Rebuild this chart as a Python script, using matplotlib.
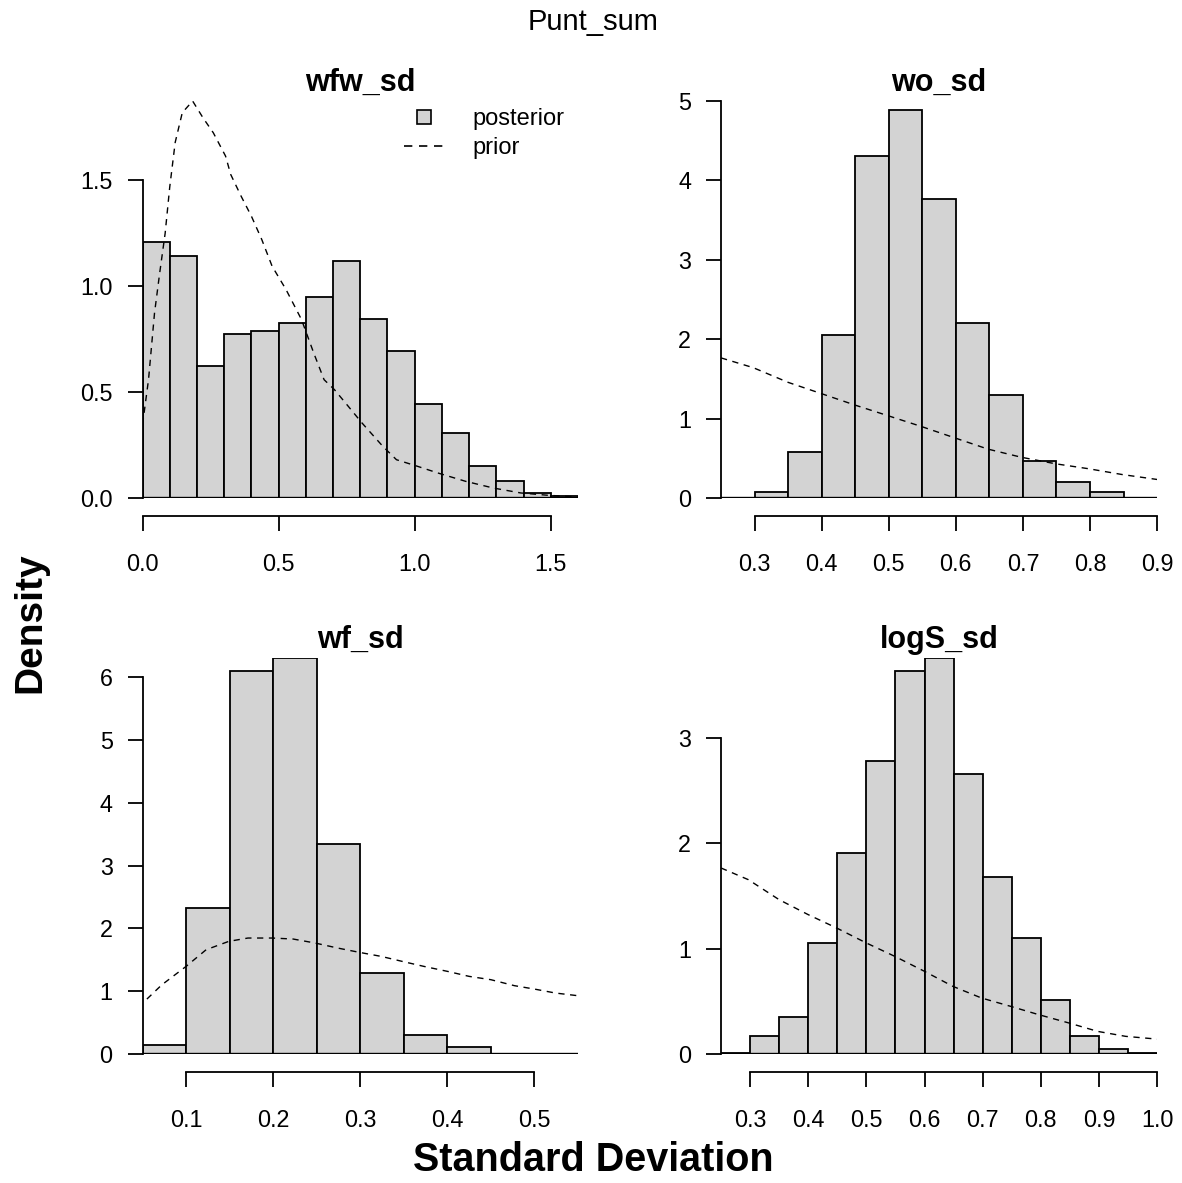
import matplotlib
matplotlib.use("Agg")
import matplotlib.pyplot as plt
from matplotlib.lines import Line2D

plt.rcParams['font.family'] = ['Liberation Sans', 'DejaVu Sans']

# wfw_sd: posterior histogram (bin edges, density) and prior density curve
wfw_edges = [0.0, 0.1, 0.2, 0.3, 0.4, 0.5, 0.6, 0.7, 0.8, 0.9, 1.0, 1.1, 1.2, 1.3, 1.4, 1.5, 1.6]
wfw_density = [1.21, 1.145, 0.625, 0.775, 0.79, 0.825, 0.95, 1.12, 0.845, 0.695,
               0.445, 0.305, 0.15, 0.08, 0.025, 0.01]
wfw_prior_x = [0.0, 0.022, 0.044, 0.063, 0.083, 0.10, 0.12, 0.146, 0.184, 0.222, 0.26,
               0.305, 0.324, 0.362, 0.40, 0.438, 0.476, 0.527, 0.584, 0.629, 0.667,
               0.705, 0.756, 0.806, 0.883, 0.933, 1.01, 1.086, 1.187, 1.29, 1.39, 1.49, 1.6]
wfw_prior_y = [0.347, 0.56, 0.874, 1.063, 1.25, 1.47, 1.68, 1.82, 1.875, 1.796, 1.725,
               1.615, 1.528, 1.426, 1.331, 1.221, 1.095, 0.985, 0.843, 0.685, 0.559,
               0.512, 0.433, 0.355, 0.244, 0.181, 0.15, 0.118, 0.079, 0.047, 0.024, 0.013, 0.005]

# wo_sd
wo_edges = [0.25, 0.30, 0.35, 0.40, 0.45, 0.50, 0.55, 0.60, 0.65, 0.70, 0.75, 0.80, 0.85, 0.90]
wo_density = [0.0, 0.07, 0.579, 2.057, 4.306, 4.881, 3.768, 2.204, 1.301, 0.468, 0.205, 0.07, 0.0]
wo_prior_x = [0.25, 0.298, 0.35, 0.40, 0.45, 0.50, 0.548, 0.598, 0.648, 0.698, 0.749, 0.798, 0.848, 0.9]
wo_prior_y = [1.765, 1.642, 1.457, 1.314, 1.17, 1.034, 0.903, 0.759, 0.616, 0.513, 0.431,
              0.369, 0.296, 0.234]

# wf_sd
wf_edges = [0.05, 0.10, 0.15, 0.20, 0.25, 0.30, 0.35, 0.40, 0.45, 0.50, 0.55]
wf_density = [0.143, 2.329, 6.095, 6.302, 3.347, 1.284, 0.297, 0.117, 0.0, 0.0]
wf_prior_x = [0.055, 0.072, 0.10, 0.123, 0.149, 0.171, 0.199, 0.223, 0.248, 0.274, 0.299,
              0.324, 0.348, 0.373, 0.40, 0.425, 0.45, 0.477, 0.50, 0.524, 0.55]
wf_prior_y = [0.875, 1.10, 1.395, 1.66, 1.793, 1.846, 1.846, 1.83, 1.767, 1.687, 1.618,
              1.554, 1.475, 1.395, 1.316, 1.236, 1.183, 1.088, 1.034, 0.971, 0.928]

# logS_sd
logS_edges = [0.25, 0.30, 0.35, 0.40, 0.45, 0.50, 0.55, 0.60, 0.65, 0.70, 0.75, 0.80,
              0.85, 0.90, 0.95, 1.00]
logS_density = [0.013, 0.174, 0.354, 1.054, 1.908, 2.782, 3.636, 3.759, 2.658, 1.677,
                1.101, 0.516, 0.174, 0.051, 0.013]
logS_prior_x = [0.25, 0.297, 0.35, 0.40, 0.449, 0.50, 0.549, 0.60, 0.649, 0.698, 0.748,
                0.797, 0.849, 0.898, 0.946, 1.0]
logS_prior_y = [1.766, 1.655, 1.465, 1.323, 1.196, 1.054, 0.927, 0.785, 0.642, 0.532,
                0.453, 0.373, 0.294, 0.215, 0.168, 0.142]

wfw_xticks = [0.0, 0.5, 1.0, 1.5]
wfw_yticks = [0.0, 0.5, 1.0, 1.5]
wo_xticks = [0.3, 0.4, 0.5, 0.6, 0.7, 0.8, 0.9]
wo_yticks = [0, 1, 2, 3, 4, 5]
wf_xticks = [0.1, 0.2, 0.3, 0.4, 0.5]
wf_yticks = [0, 1, 2, 3, 4, 5, 6]
logS_xticks = [0.3, 0.4, 0.5, 0.6, 0.7, 0.8, 0.9, 1.0]
logS_yticks = [0, 1, 2, 3]

BAR_GREY = '#d3d3d3'
TICK_FS = 16.8


def draw_panel(ax, title, edges, dens, px, py, xticks, xfmt, yticks, yfmt):
    lefts = edges[:-1]
    widths = [b - a for a, b in zip(edges[:-1], edges[1:])]
    ax.bar(lefts, dens, width=widths, align='edge', color=BAR_GREY,
           edgecolor='black', linewidth=1.3, zorder=2)
    ax.axhline(0, color='black', linewidth=1.7, zorder=3)
    ax.plot(px, py, color='black', linewidth=1.0, linestyle=(0, (4.5, 4)), zorder=4)

    ax.set_xlim(edges[0], edges[-1])
    ax.set_ylim(0, max(max(dens), max(py)))

    for s in ('top', 'right'):
        ax.spines[s].set_visible(False)
    ax.spines['bottom'].set_position(('outward', 13))
    ax.spines['bottom'].set_bounds(xticks[0], xticks[-1])
    ax.spines['left'].set_bounds(yticks[0], yticks[-1])
    for s in ('bottom', 'left'):
        ax.spines[s].set_linewidth(1.3)

    ax.set_xticks(xticks)
    ax.set_xticklabels([xfmt.format(v) for v in xticks])
    ax.set_yticks(yticks)
    ax.set_yticklabels([yfmt.format(v) for v in yticks])
    ax.tick_params(axis='x', length=11, width=1.3, pad=15.5, labelsize=TICK_FS, colors='black')
    ax.tick_params(axis='y', length=11, width=1.3, pad=10.5, labelsize=TICK_FS, colors='black')
    ax.set_title(title, fontsize=22, fontweight='bold', pad=7)


fig = plt.figure(figsize=(11.82, 11.83), dpi=100)

ax1 = fig.add_axes([0.1206, 0.5790, 0.3684, 0.3356])
ax2 = fig.add_axes([0.6100, 0.5790, 0.3689, 0.3356])
ax3 = fig.add_axes([0.1206, 0.1090, 0.3684, 0.3348])
ax4 = fig.add_axes([0.6100, 0.1090, 0.3689, 0.3348])

draw_panel(ax1, 'wfw_sd', wfw_edges, wfw_density, wfw_prior_x, wfw_prior_y,
           wfw_xticks, '{:.1f}', wfw_yticks, '{:.1f}')
draw_panel(ax2, 'wo_sd', wo_edges, wo_density, wo_prior_x, wo_prior_y,
           wo_xticks, '{:.1f}', wo_yticks, '{:d}')
draw_panel(ax3, 'wf_sd', wf_edges, wf_density, wf_prior_x, wf_prior_y,
           wf_xticks, '{:.1f}', wf_yticks, '{:d}')
draw_panel(ax4, 'logS_sd', logS_edges, logS_density, logS_prior_x, logS_prior_y,
           logS_xticks, '{:.1f}', logS_yticks, '{:d}')

# legend in first panel, no frame
handles = [
    Line2D([], [], marker='s', markersize=10, markerfacecolor=BAR_GREY,
           markeredgecolor='black', markeredgewidth=1.2, linestyle='none'),
    Line2D([], [], color='black', linewidth=1.2, linestyle=(0, (5, 4))),
]
ax1.legend(handles, ['posterior', 'prior'], loc='upper left',
           bbox_to_anchor=(404 / 1182, 1 - 108 / 1183), bbox_transform=fig.transFigure,
           frameon=False, fontsize=17, handlelength=1.7, handletextpad=1.2,
           labelspacing=0.3, borderpad=0, borderaxespad=0)

fig.text(0.5017, 0.981, 'Punt_sum', ha='center', va='center', fontsize=21)
fig.text(0.0254, 0.474, 'Density', ha='center', va='center', rotation=90,
         fontsize=28, fontweight='bold')
fig.text(0.5017, 0.0194, 'Standard Deviation', ha='center', va='center',
         fontsize=28.5, fontweight='bold')

fig.savefig('out.png', dpi=100)
